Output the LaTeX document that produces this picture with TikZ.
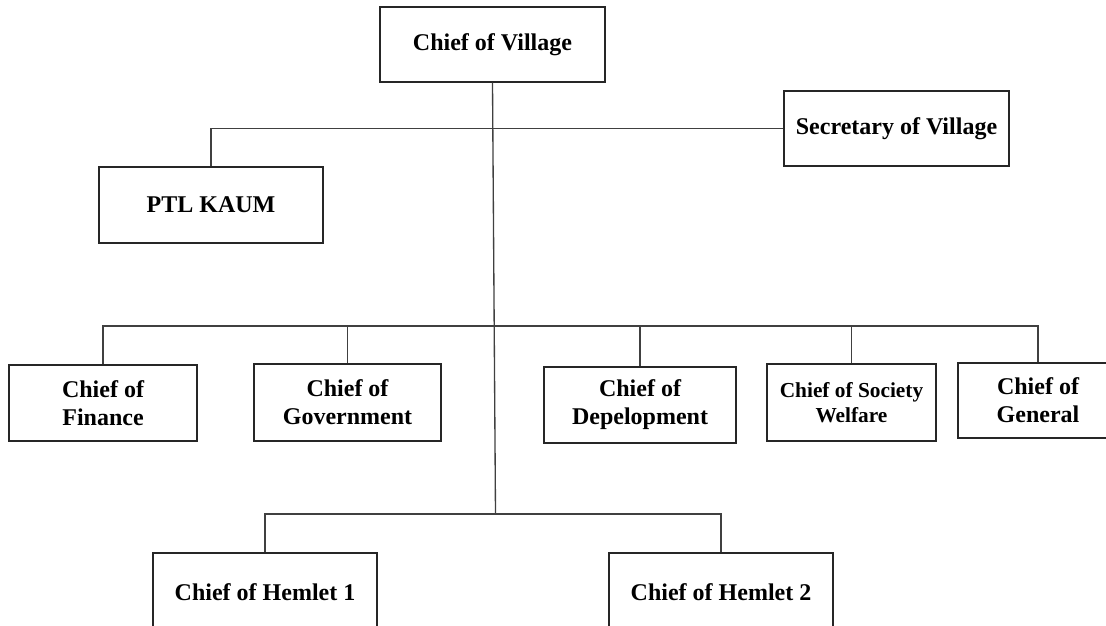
\documentclass[tikz,border=0pt]{standalone}
\usepackage{fontspec}
\setmainfont{Liberation Serif}
\begin{document}
\begin{tikzpicture}[x=0.75pt,y=-0.75pt,
  box/.style={draw=black!85,line width=1pt,fill=white,align=center,inner sep=0pt,
    font=\fontsize{18}{21}\selectfont\bfseries},
  smallbox/.style={box,font=\fontsize{16}{18.75}\selectfont\bfseries},
  link/.style={draw=black!75,line width=1pt}]
\useasboundingbox (0,0) rectangle (1106,625);
\node[box,minimum width=225*0.75pt,minimum height=75*0.75pt] (village) at (492.5,44.5) {Chief of Village};
\node[box,minimum width=225*0.75pt,minimum height=75*0.75pt] (secretary) at (896.5,128.5) {Secretary of Village};
\node[box,minimum width=224*0.75pt,minimum height=76*0.75pt] (ptl) at (211,205) {PTL KAUM};
\node[box,minimum width=188*0.75pt,minimum height=76*0.75pt] (finance) at (103,403) {Chief of\\Finance};
\node[box,minimum width=187*0.75pt,minimum height=77*0.75pt] (gov) at (347.5,402.5) {Chief of\\Government};
\node[box,minimum width=192*0.75pt,minimum height=76*0.75pt] (dev) at (640,405) {Chief of\\Depelopment};
\node[smallbox,minimum width=169*0.75pt,minimum height=77*0.75pt] (soc) at (851.5,402.5) {Chief of Society\\Welfare};
\node[box,minimum width=160*0.75pt,minimum height=75*0.75pt] (gen) at (1038,400.5) {Chief of\\General};
\node[box,minimum width=224*0.75pt,minimum height=78*0.75pt] (hem1) at (265,592) {Chief of Hemlet 1};
\node[box,minimum width=224*0.75pt,minimum height=78*0.75pt] (hem2) at (721,592) {Chief of Hemlet 2};
\coordinate (bar) at (0,326);
\coordinate (hj) at (495.5,514);
% secretary / PTL line
\draw[link] (ptl.north) |- (secretary.west);
% main vertical
\draw[link] (village.south) -- (hj);
% department bar
\draw[link] (finance.north) -- (finance.north |- bar) -- (gen.north |- bar) -- (gen.north);
\draw[link] (gov.north) -- (gov.north |- bar);
\draw[link] (dev.north) -- (dev.north |- bar);
\draw[link] (soc.north) -- (soc.north |- bar);
% hemlet bar
\draw[link] (hem1.north) -- (hem1.north |- hj) -- (hem2.north |- hj) -- (hem2.north);
\end{tikzpicture}
\end{document}
